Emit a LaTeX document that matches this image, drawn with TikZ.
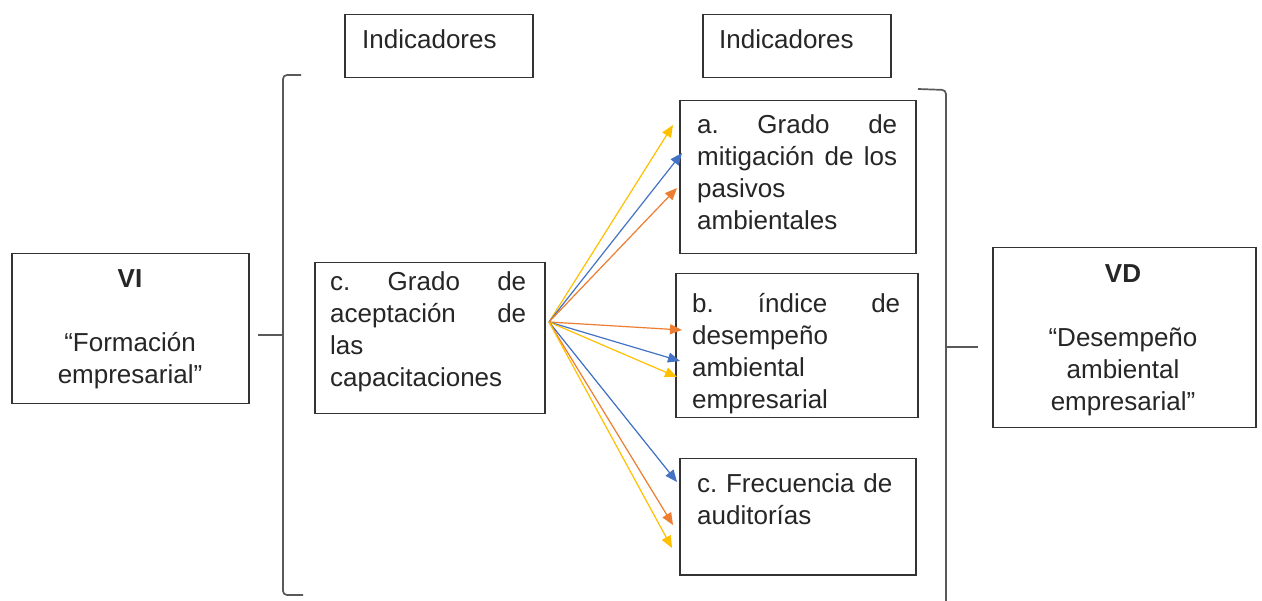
\documentclass[tikz,border=0pt]{standalone}
\usepackage{fontspec}
\setmainfont{Liberation Sans}
\usetikzlibrary{arrows.meta}
\definecolor{ayel}{HTML}{FFC000}
\definecolor{ablu}{HTML}{4472C4}
\definecolor{aora}{HTML}{ED7D31}
\frenchspacing
\begin{document}
\begin{tikzpicture}[x=1pt,y=-1pt,
  box/.style={draw=black!80, line width=1.5pt, inner sep=0pt, anchor=north west},
  txt/.style={inner sep=0pt, anchor=base west, align=left, font=\fontsize{26}{32}\selectfont\frenchspacing, text=black!85},
  ctxt/.style={inner sep=0pt, anchor=base, align=center, font=\fontsize{26}{32}\selectfont, text=black!85},
  brace/.style={draw=black!65, line width=1.7pt, rounded corners=4pt},
  arr/.style={line width=1.2pt, -{Triangle[length=12pt,width=10pt]}}]
\useasboundingbox[fill=white] (0,0) rectangle (1262,601);

% boxes
\node[box, minimum width=188pt, minimum height=63pt] (ind1) at (344,14) {};
\node[box, minimum width=188pt, minimum height=63pt] (ind2) at (702,14) {};
\node[box, minimum width=237pt, minimum height=150pt] (vi) at (11,253) {};
\node[box, minimum width=230pt, minimum height=151pt] (mid) at (314,262) {};
\node[box, minimum width=236pt, minimum height=153pt] (boxa) at (679,100) {};
\node[box, minimum width=242pt, minimum height=144pt] (boxb) at (675,273) {};
\node[box, minimum width=236pt, minimum height=116pt] (boxc) at (679,458) {};
\node[box, minimum width=263pt, minimum height=180pt] (vd) at (992,247) {};

% texts
\node[txt] (tind1) at (362,49) {Indicadores};
\node[txt] (tind2) at (719,49) {Indicadores};
\node[ctxt, text width=230pt] (tvi) at (130,288) {\textbf{VI}\\[32pt]“Formación\\empresarial”};
\node[ctxt, text width=260pt] (tvd) at (1123,283) {\textbf{VD}\\[32pt]“Desempeño\\ambiental\\empresarial”};
\node[txt, text width=196pt] (tmid) at (330,291) {c.\hfill Grado\hfill de\\aceptación\hfill de\\las\\capacitaciones};
\node[txt, text width=200pt] (ta) at (697,134) {a.\hfill Grado\hfill de\\mitigación\hfill de\hfill los\\pasivos\\ambientales};
\node[txt, text width=208pt] (tb) at (692,313) {b.\hfill índice\hfill de\\desempeño\\ambiental\\empresarial};
\node[txt, text width=200pt] (tc) at (697,493) {\mbox{c. Frecuencia de}\\auditorías};

% braces
\draw[brace] (301,75) -- (283,75) -- (283,595) -- (303,595);
\draw[brace] (258,335) -- (283,335);
\draw[brace] (918,89) -- (946,90) -- (946,601);
\draw[brace] (946,347) -- (978,347);

% arrows
\coordinate (src) at (549,322);
\coordinate (ya) at (673,125);
\coordinate (ba) at (682,153);
\coordinate (oa) at (677,188);
\coordinate (ob) at (682,330);
\coordinate (bb) at (680,361);
\coordinate (yb) at (677,377);
\coordinate (bc) at (677,482);
\coordinate (oc) at (673,525);
\coordinate (yc) at (672,548);
\draw[arr, ayel] (src) -- (ya);
\draw[arr, ablu] (src) -- (ba);
\draw[arr, aora] (src) -- (oa);
\draw[arr, aora] (src) -- (ob);
\draw[arr, ablu] (src) -- (bb);
\draw[arr, ayel] (src) -- (yb);
\draw[arr, ablu] (src) -- (bc);
\draw[arr, aora] (src) -- (oc);
\draw[arr, ayel] (src) -- (yc);
\end{tikzpicture}
\end{document}
